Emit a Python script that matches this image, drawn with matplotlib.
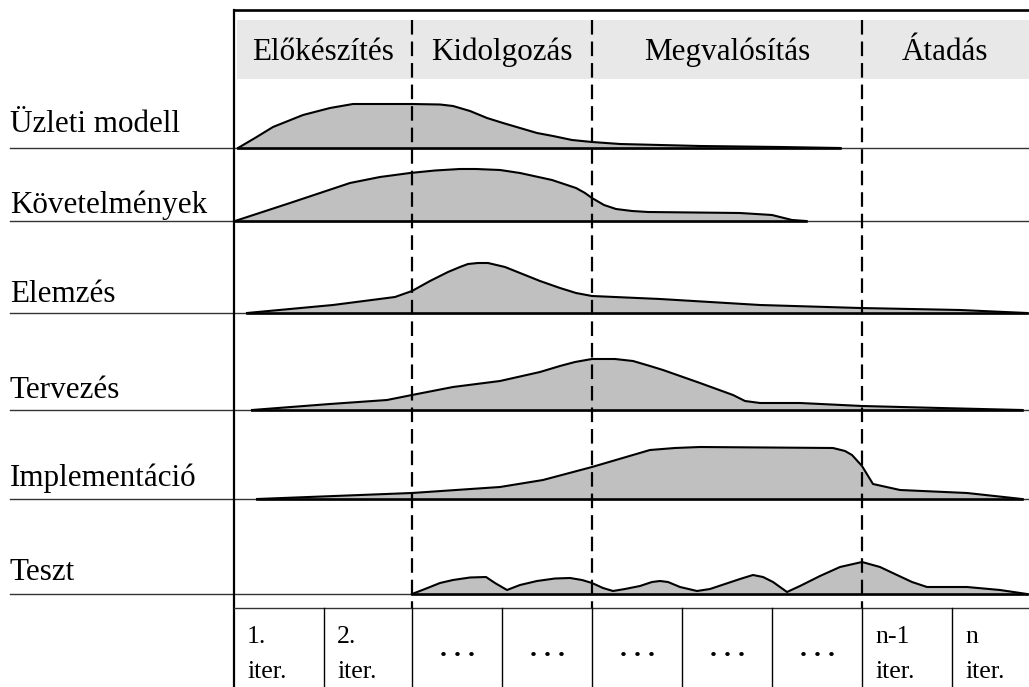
import matplotlib
matplotlib.use("Agg")
import matplotlib.pyplot as plt
from matplotlib.patches import Rectangle

plt.rcParams['font.family'] = ['Liberation Serif', 'DejaVu Serif']
plt.rcParams['lines.scale_dashes'] = False

# ---------------- data ----------------
phases = ["Előkészítés", "Kidolgozás", "Megvalósítás", "Átadás"]
workflows = ["Üzleti modell", "Követelmények", "Elemzés", "Tervezés",
             "Implementáció", "Teszt"]
iterations = ["1.\niter.", "2.\niter.", ". . .", ". . .", ". . .", ". . .", ". . .",
              "n-1\niter.", "n\niter."]

# timeline positions (horizontal, in figure units) and effort heights
uzleti_x = [238, 255, 273, 303, 330, 353, 412, 440, 453, 470, 487, 503, 520, 537,
            553, 572, 592, 620, 700, 780, 840]
uzleti_h = [0, 10, 21, 33, 40, 44, 44, 43.5, 42, 37, 30, 25, 20, 15,
            12, 8, 6, 4, 2, 1, 0]

kovet_x = [235, 290, 350, 380, 410, 435, 460, 476, 500, 520, 552, 576, 585, 592,
           604, 616, 632, 648, 740, 772, 792, 806]
kovet_h = [0, 18, 38, 44, 48, 50.5, 52, 52, 51, 48, 41, 33, 28, 23,
           16, 12, 10, 9, 8, 6, 1, 0]

elemzes_x = [247, 333, 395, 412, 430, 448, 460, 468, 478, 488, 505, 520, 540, 560,
             576, 592, 660, 760, 860, 960, 1027]
elemzes_h = [0, 8, 16, 22, 32, 41, 46, 49, 50, 50, 46, 40, 32, 25,
             20, 17, 14, 8, 5, 3, 0]

terv_x = [252, 330, 387, 412, 453, 500, 540, 560, 575, 592, 615, 633, 650, 663,
          700, 733, 745, 760, 800, 862, 940, 1022]
terv_h = [0, 6, 10, 15, 23, 29, 38, 44, 48, 51, 51, 49, 44, 40,
          27, 15, 9, 7, 7, 4, 2, 0]

impl_x = [257, 412, 500, 543, 592, 650, 675, 700, 833, 845, 852, 862, 873, 900,
          967, 1022]
impl_h = [0, 6, 12, 19, 32, 49, 51, 52, 51, 48, 44, 33, 15, 9, 6, 0]

teszt_x = [412, 425, 440, 453, 470, 486, 495, 507, 520, 537, 555, 570, 582, 592,
           603, 613, 625, 640, 652, 660, 668, 680, 697, 710, 725, 740, 753, 763,
           773, 787, 800, 820, 840, 862, 880, 897, 912, 927, 967, 1000, 1027]
teszt_h = [0, 5, 11, 14, 16.5, 17, 11, 4, 9, 13, 15.5, 16, 14, 11,
           6, 3, 5, 8, 12, 13, 12, 7, 3, 5, 10, 15, 19, 17,
           12, 2, 8, 18, 27, 32, 27, 19, 12, 7, 7, 4, 0]

curves_x = [uzleti_x, kovet_x, elemzes_x, terv_x, impl_x, teszt_x]
curves_h = [uzleti_h, kovet_h, elemzes_h, terv_h, impl_h, teszt_h]

# ---------------- layout ----------------
W, H = 1029, 687
fig = plt.figure(figsize=(W / 100, H / 100), dpi=100)
ax = fig.add_axes([0, 0, 1, 1])
ax.set_xlim(0, W)
ax.set_ylim(H, 0)
ax.axis('off')

left = 234
phase_edges = [left, 412, 592, 862, W]
col_edges = [left, 324, 412, 502, 592, 682, 772, 862, 952, W]
baselines = [148, 221, 313, 410, 499, 594]
label_base = [132, 213, 302, 398, 486, 580]
table_top = 608

# phase header band
ax.add_patch(Rectangle((left + 3, 20), W - left - 3, 59, facecolor='#e8e8e8',
                       edgecolor='none', zorder=0))
for i, name in enumerate(phases):
    cx = (phase_edges[i] + phase_edges[i + 1]) / 2
    ax.text(cx, 60, name, ha='center', va='baseline', fontsize=22.4, zorder=5)

# workflow rows
for name, b, lb, xs, hs in zip(workflows, baselines, label_base, curves_x, curves_h):
    ax.plot([10, W], [b, b], color='#333333', lw=1.0, zorder=1)
    tops = [b - h for h in hs]
    ax.fill_between(xs, [b] * len(xs), tops, color='#c0c0c0', lw=0, zorder=2)
    ax.plot(xs, tops, color='black', lw=1.5, zorder=3, solid_joinstyle='round')
    ax.plot([xs[0], xs[-1]], [b, b], color='black', lw=1.9, zorder=3)
    ax.text(10, lb, name, ha='left', va='baseline', fontsize=22.4, zorder=5)

# phase boundaries (dashed)
for x in phase_edges[1:-1]:
    ax.plot([x, x], [20, table_top], color='black', lw=1.6, dashes=(10.5, 5),
            zorder=4)

# frame
ax.plot([left, W], [10, 10], color='black', lw=1.9, zorder=6)
ax.plot([left, left], [10, H], color='black', lw=1.6, zorder=6)

# iteration table
ax.plot([left, W], [table_top, table_top], color='#333333', lw=1.0, zorder=6)
for x in col_edges[1:-1]:
    ax.plot([x, x], [table_top, H], color='black', lw=1.0, zorder=6)
for i, lab in enumerate(iterations):
    x0, x1 = col_edges[i], col_edges[i + 1]
    if "\n" in lab:
        top, bot = lab.split("\n")
        ax.text(x0 + 13, 643, top, ha='left', va='baseline', fontsize=18.5)
        ax.text(x0 + 13, 678, bot, ha='left', va='baseline', fontsize=18.5)
    else:
        ax.text((x0 + x1) / 2, 656, lab, ha='center', va='baseline', fontsize=20,
                fontweight='bold')

fig.savefig("out.png", dpi=100)
